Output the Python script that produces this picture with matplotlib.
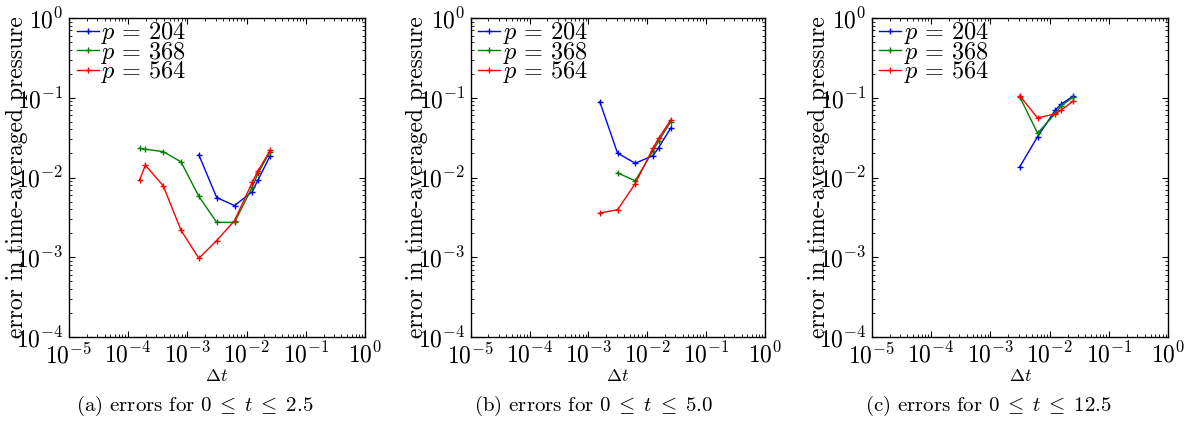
import matplotlib
matplotlib.use("Agg")
import matplotlib.pyplot as plt
from matplotlib.ticker import LogLocator, NullFormatter

plt.rcParams['mathtext.fontset'] = 'cm'
plt.rcParams['font.family'] = ['cmr10', 'DejaVu Sans']
plt.rcParams['axes.formatter.use_mathtext'] = True
plt.rcParams['axes.unicode_minus'] = False

# time steps
dt_a = [1.56e-4, 1.95e-4, 3.9e-4, 7.8e-4, 1.56e-3, 3.125e-3, 6.25e-3, 1.25e-2, 1.56e-2, 2.5e-2]
dt_b = [1.56e-3, 3.125e-3, 6.25e-3, 1.25e-2, 1.56e-2, 2.5e-2]
dt_c = [3.125e-3, 6.25e-3, 1.25e-2, 1.56e-2, 2.5e-2]

# panel (a)
a_dt204 = dt_a[4:]
a_e204 = [0.0192, 0.0056, 0.00445, 0.00665, 0.00933, 0.0187]
a_dt368 = dt_a
a_e368 = [0.0232, 0.0226, 0.0211, 0.0157, 0.0058, 0.00274, 0.00274, 0.0076, 0.01135, 0.0211]
a_dt564 = dt_a
a_e564 = [0.00935, 0.01425, 0.00788, 0.00218, 0.00097, 0.00162, 0.00288, 0.00875, 0.01215, 0.0219]

# panel (b)
b_dt204 = dt_b
b_e204 = [0.089, 0.0202, 0.0151, 0.0188, 0.0237, 0.0417]
b_dt368 = dt_b[1:]
b_e368 = [0.01143, 0.0091, 0.0216, 0.0287, 0.0501]
b_dt564 = dt_b
b_e564 = [0.00359, 0.00394, 0.0084, 0.0233, 0.031, 0.0525]

# panel (c)
c_dt204 = dt_c
c_e204 = [0.0136, 0.0326, 0.0703, 0.0834, 0.105]
c_dt368 = dt_c
c_e368 = [0.1028, 0.0359, 0.0638, 0.0794, 0.102]
c_dt564 = dt_c
c_e564 = [0.106, 0.0557, 0.063, 0.070, 0.091]

labels = [r'$p\,=\,204$', r'$p\,=\,368$', r'$p\,=\,564$']
colors = ['b', 'g', 'r']
captions = [r'(a) errors for $0\;\leq\;t\;\leq\;2.5$',
            r'(b) errors for $0\;\leq\;t\;\leq\;5.0$',
            r'(c) errors for $0\;\leq\;t\;\leq\;12.5$']
major_ticks_x = [1e-5, 1e-4, 1e-3, 1e-2, 1e-1, 1e0]
major_ticks_y = [1e-4, 1e-3, 1e-2, 1e-1, 1e0]

panels = [
    [(a_dt204, a_e204), (a_dt368, a_e368), (a_dt564, a_e564)],
    [(b_dt204, b_e204), (b_dt368, b_e368), (b_dt564, b_e564)],
    [(c_dt204, c_e204), (c_dt368, c_e368), (c_dt564, c_e564)],
]

W, H = 1191, 426
fig = plt.figure(figsize=(W / 100, H / 100), dpi=100)

lefts = [69, 470.7, 871.7]
widths = [296, 294.3, 296.7]
ylab_x = [-0.139, -0.145, -0.142]
top_px, bot_px = 18, 337
cap_x = [194.7, 593, 988]
fs = 17

for i, series in enumerate(panels):
    ax = fig.add_axes([lefts[i] / W, 1 - bot_px / H, widths[i] / W, (bot_px - top_px) / H])
    for (x, y), lab, c in zip(series, labels, colors):
        ax.plot(x, y, color=c, marker='+', markersize=4, mew=1.0, lw=1.0, label=lab)
    ax.set_xscale('log')
    ax.set_yscale('log')
    ax.set_xlim(1e-5, 1)
    ax.set_ylim(1e-4, 1)
    ax.set_xticks(major_ticks_x)
    ax.set_yticks(major_ticks_y)
    ax.xaxis.set_minor_locator(LogLocator(base=10, subs=range(2, 10), numticks=30))
    ax.yaxis.set_minor_locator(LogLocator(base=10, subs=range(2, 10), numticks=30))
    ax.xaxis.set_minor_formatter(NullFormatter())
    ax.yaxis.set_minor_formatter(NullFormatter())
    ax.tick_params(which='both', direction='in', top=True, right=True, labelsize=fs)
    ax.tick_params(which='major', length=4, width=0.8, pad=4)
    ax.tick_params(which='minor', length=2, width=0.6)
    for s in ax.spines.values():
        s.set_linewidth(1.0)
    ax.set_xlabel(r'$\Delta t$', fontsize=13, labelpad=0)
    ax.set_ylabel('error in time-averaged pressure', fontsize=fs)
    ax.yaxis.set_label_coords(ylab_x[i], 0.5)
    ax.legend(loc='upper left', bbox_to_anchor=(0.022, 0.996), frameon=False,
              fontsize=17.5, handlelength=0.9, handletextpad=0.1, labelspacing=-0.27,
              borderaxespad=0.0, borderpad=0.05)
    fig.text(cap_x[i] / W, 1 - 406 / H, captions[i], ha='center', va='center', fontsize=15)

fig.savefig('out.png', dpi=100)
